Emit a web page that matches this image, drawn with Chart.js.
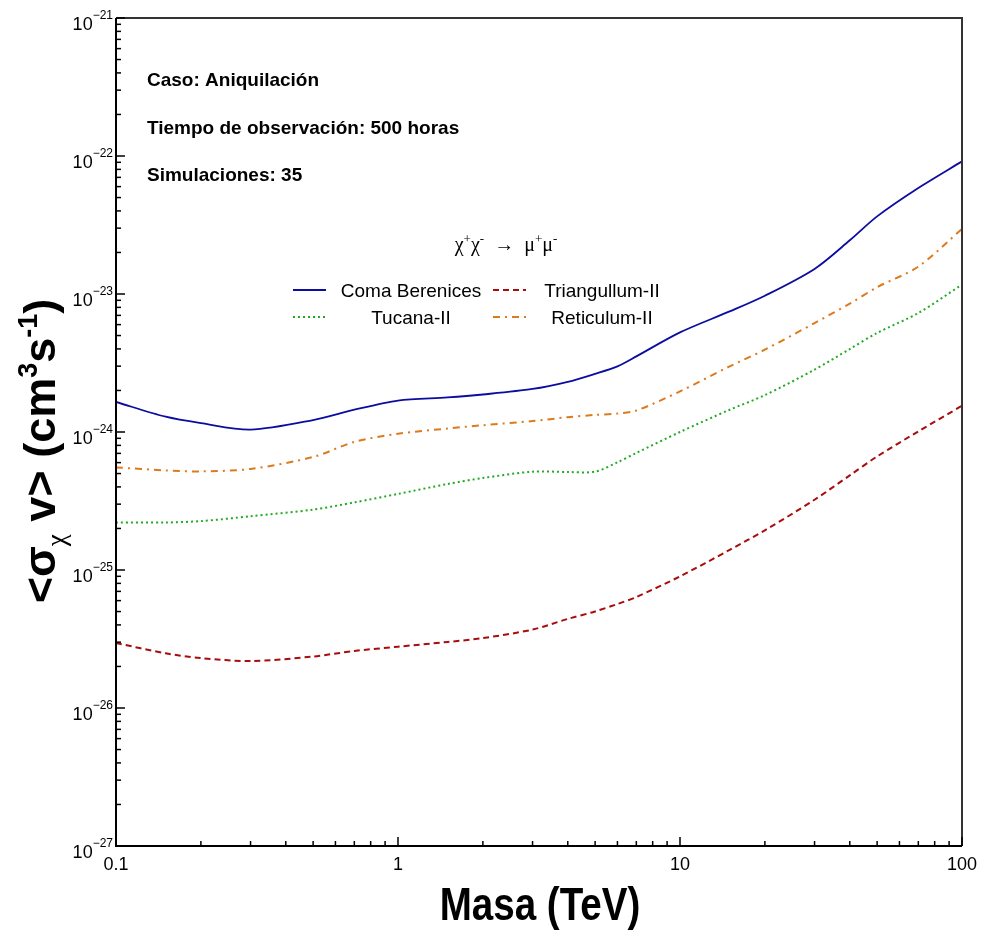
<!DOCTYPE html>
<html>
<head>
<meta charset="utf-8">
<script src="https://cdn.jsdelivr.net/npm/chart.js@4.4.0/dist/chart.umd.min.js"></script>
<style>
    html, body { margin: 0; padding: 0; background: #ffffff; }
    canvas { display: block; }
</style>
</head>
<body>
<canvas id="limitsChart" width="985" height="931"></canvas>
<script>
// Masa (TeV)
var masses = [0.1, 0.15, 0.2, 0.3, 0.5, 0.7, 1, 1.5, 2, 3, 4, 5, 6, 7, 10, 15, 20, 30, 40, 50, 70, 100];

// <sigma v> upper limits (cm^3 s^-1)
var comaBerenices = [1.65e-24, 1.29e-24, 1.16e-24, 1.04e-24, 1.22e-24, 1.45e-24, 1.69e-24, 1.78e-24, 1.87e-24, 2.05e-24, 2.31e-24, 2.64e-24, 2.99e-24, 3.53e-24, 5.27e-24, 7.48e-24, 9.72e-24, 1.52e-23, 2.45e-23, 3.65e-23, 5.86e-23, 9.14e-23];
var triangullum = [2.96e-26, 2.49e-26, 2.30e-26, 2.19e-26, 2.36e-26, 2.59e-26, 2.78e-26, 3.01e-26, 3.21e-26, 3.70e-26, 4.42e-26, 5.01e-26, 5.67e-26, 6.37e-26, 8.99e-26, 1.40e-25, 1.94e-25, 3.23e-25, 4.85e-25, 6.65e-25, 1.01e-24, 1.55e-24];
var tucana = [2.21e-25, 2.21e-25, 2.26e-25, 2.45e-25, 2.74e-25, 3.09e-25, 3.56e-25, 4.20e-25, 4.64e-25, 5.16e-25, 5.13e-25, 5.16e-25, 6.03e-25, 7.05e-25, 1.00e-24, 1.45e-24, 1.85e-24, 2.83e-24, 3.99e-24, 5.22e-24, 7.28e-24, 1.17e-23];
var reticulum = [5.54e-25, 5.27e-25, 5.18e-25, 5.40e-25, 6.59e-25, 8.47e-25, 9.72e-25, 1.06e-24, 1.12e-24, 1.20e-24, 1.28e-24, 1.33e-24, 1.36e-24, 1.43e-24, 1.97e-24, 2.99e-24, 3.95e-24, 6.16e-24, 8.50e-24, 1.12e-23, 1.58e-23, 2.96e-23];

var xTicks = [0.1, 1, 10, 100];
var yDecades = [-27, -26, -25, -24, -23, -22, -21];

var infoLines = ['Caso: Aniquilación', 'Tiempo de observación: 500 horas', 'Simulaciones: 35'];

function toPoints(ys) {
    return masses.map(function (m, i) { return { x: m, y: ys[i] }; });
}

// text runs with sub/superscripts
function richWidth(ctx, parts) {
    var w = 0;
    parts.forEach(function (p) { ctx.font = p.font; w += ctx.measureText(p.t).width; });
    return w;
}
function drawRich(ctx, parts, x, y) {
    parts.forEach(function (p) {
        ctx.font = p.font;
        ctx.fillText(p.t, x, y + (p.dy || 0));
        x += ctx.measureText(p.t).width;
    });
}

var frameAndText = {
    id: 'frameAndText',
    afterDatasetsDraw: function (chart) {
        var ctx = chart.ctx;
        var xs = chart.scales.x, ys = chart.scales.y;
        var area = chart.chartArea;
        ctx.save();
        ctx.fillStyle = '#000';
        ctx.textAlign = 'left';
        ctx.textBaseline = 'alphabetic';

        // frame
        ctx.lineWidth = 2;
        ctx.strokeStyle = '#333';
        ctx.beginPath();
        ctx.moveTo(area.left, area.top); ctx.lineTo(area.right, area.top);
        ctx.lineTo(area.right, area.bottom);
        ctx.stroke();
        ctx.strokeStyle = '#000';
        ctx.beginPath();
        ctx.moveTo(area.left, area.top); ctx.lineTo(area.left, area.bottom);
        ctx.lineTo(area.right, area.bottom);
        ctx.stroke();

        // y ticks + labels
        ctx.lineWidth = 1.5;
        yDecades.forEach(function (e) {
            var py = ys.getPixelForValue(Math.pow(10, e));
            ctx.beginPath(); ctx.moveTo(area.left, py); ctx.lineTo(area.left + 9, py); ctx.stroke();
            if (e < -21) {
                for (var m = 2; m <= 9; m++) {
                    var pm = ys.getPixelForValue(m * Math.pow(10, e));
                    ctx.beginPath(); ctx.moveTo(area.left, pm); ctx.lineTo(area.left + 5, pm); ctx.stroke();
                }
            }
            ctx.textAlign = 'right';
            ctx.font = '12px "Liberation Sans", Arial, sans-serif';
            var exp = '\u2212' + Math.abs(e);
            ctx.fillText(exp, 113, py + 1);
            var ew = ctx.measureText(exp).width;
            ctx.font = '18px "Liberation Sans", Arial, sans-serif';
            ctx.fillText('10', 113 - ew, py + 12);
        });

        // x ticks + labels
        xTicks.forEach(function (t, i) {
            var px = xs.getPixelForValue(t);
            ctx.beginPath(); ctx.moveTo(px, area.bottom); ctx.lineTo(px, area.bottom - 9); ctx.stroke();
            if (i < xTicks.length - 1) {
                for (var m = 2; m <= 9; m++) {
                    var pm = xs.getPixelForValue(m * t);
                    ctx.beginPath(); ctx.moveTo(pm, area.bottom); ctx.lineTo(pm, area.bottom - 5); ctx.stroke();
                }
            }
            ctx.textAlign = 'center';
            ctx.font = '18px "Liberation Sans", Arial, sans-serif';
            ctx.fillText(String(t), px, 870);
        });

        // axis titles
        ctx.save();
        ctx.translate(540, 920);
        ctx.scale(0.82, 1);
        ctx.textAlign = 'center';
        ctx.font = 'bold 47px "Liberation Sans", Arial, sans-serif';
        ctx.fillText('Masa (TeV)', 0, 0);
        ctx.restore();

        var bold = 'bold 45px "Liberation Sans", Arial, sans-serif';
        var small = 'bold 27px "Liberation Sans", Arial, sans-serif';
        var yTitle = [
            { t: '<σ', font: bold },
            { t: 'χ', font: '27px "Liberation Serif", serif', dy: 10 },
            { t: ' v> (cm', font: bold },
            { t: '3', font: small, dy: -18 },
            { t: 's', font: bold },
            { t: '-1', font: small, dy: -18 },
            { t: ')', font: bold }
        ];
        ctx.save();
        ctx.translate(55, 451);
        ctx.rotate(-Math.PI / 2);
        ctx.textAlign = 'left';
        drawRich(ctx, yTitle, -richWidth(ctx, yTitle) / 2, 0);
        ctx.restore();

        // info text
        ctx.textAlign = 'left';
        ctx.font = 'bold 19px "Liberation Sans", Arial, sans-serif';
        [86, 133.5, 181].forEach(function (by, i) { ctx.fillText(infoLines[i], 147, by); });

        // legend header
        var serif = '20px "Liberation Serif", "Times New Roman", serif';
        var serifSup = '13px "Liberation Serif", "Times New Roman", serif';
        var header = [
            { t: 'χ', font: serif }, { t: '+', font: serifSup, dy: -8 },
            { t: 'χ', font: serif }, { t: '-', font: serifSup, dy: -8 },
            { t: '  \u2192  ', font: serif },
            { t: 'μ', font: serif }, { t: '+', font: serifSup, dy: -8 },
            { t: 'μ', font: serif }, { t: '-', font: serifSup, dy: -8 }
        ];
        drawRich(ctx, header, 506 - richWidth(ctx, header) / 2, 251);

        // legend entries, 2 columns
        var lineX = [[293, 326], [493, 526]];
        var textX = [411, 602];
        var rowY = [290, 317];
        chart.data.datasets.forEach(function (ds, i) {
            var c = i % 2, r = Math.floor(i / 2);
            ctx.strokeStyle = ds.borderColor;
            ctx.lineWidth = ds.borderWidth;
            ctx.setLineDash(ds.borderDash || []);
            ctx.beginPath(); ctx.moveTo(lineX[c][0], rowY[r]); ctx.lineTo(lineX[c][1], rowY[r]); ctx.stroke();
            ctx.setLineDash([]);
            ctx.textAlign = 'center';
            ctx.fillStyle = '#000';
            ctx.font = '19px "Liberation Sans", Arial, sans-serif';
            ctx.fillText(ds.label, textX[c], rowY[r] + 7);
        });
        ctx.restore();
    }
};

var ctx = document.getElementById('limitsChart').getContext('2d');
var chart = new Chart(ctx, {
    type: 'line',
    data: {
        datasets: [{
            label: 'Coma Berenices',
            data: toPoints(comaBerenices),
            borderColor: '#0c0ca0',
            borderWidth: 1.8,
            borderDash: []
        }, {
            label: 'Triangullum-II',
            data: toPoints(triangullum),
            borderColor: '#a80c0c',
            borderWidth: 2,
            borderDash: [6, 4]
        }, {
            label: 'Tucana-II',
            data: toPoints(tucana),
            borderColor: '#22aa22',
            borderWidth: 2,
            borderDash: [2, 3]
        }, {
            label: 'Reticulum-II',
            data: toPoints(reticulum),
            borderColor: '#dd7a1c',
            borderWidth: 2,
            borderDash: [7, 5, 2, 5]
        }]
    },
    options: {
        responsive: false,
        animation: false,
        layout: { padding: { left: 116, right: 23, top: 18, bottom: 85 } },
        elements: {
            point: { radius: 0 },
            line: { tension: 0.3, fill: false }
        },
        plugins: {
            legend: { display: false },
            tooltip: { enabled: false }
        },
        scales: {
            x: { type: 'logarithmic', min: 0.1, max: 100, display: false },
            y: { type: 'logarithmic', min: 1e-27, max: 1e-21, display: false }
        }
    },
    plugins: [frameAndText]
});
</script>
</body>
</html>
